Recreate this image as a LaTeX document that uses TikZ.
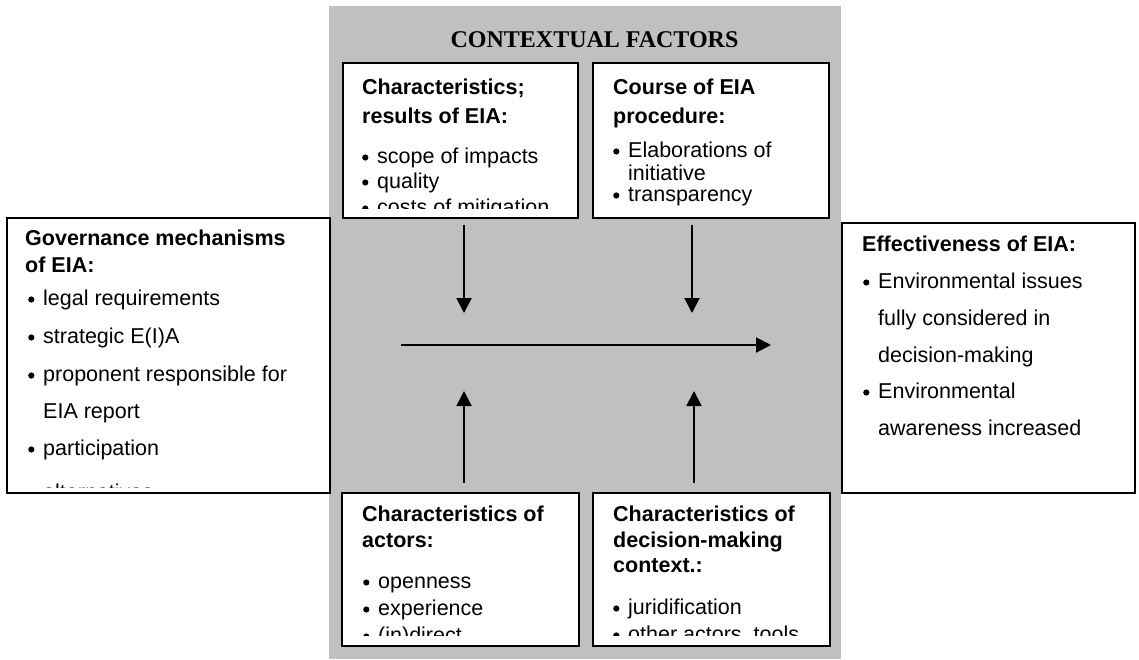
\documentclass[tikz,border=0pt]{standalone}
\usepackage{fontspec}
\setmainfont{Liberation Sans}
\newfontfamily\titlefont{Liberation Serif}
\usetikzlibrary{arrows.meta}
\definecolor{panelgray}{HTML}{C0C0C0}
\newcommand\mybullet{\makebox[15pt][l]{\raisebox{2.4pt}{\tikz\fill[black] (0,0) circle (3.1pt);}}}
\begin{document}
\begin{tikzpicture}[x=1pt,y=-1pt,
  txt/.style={anchor=base west, inner sep=0pt, font=\fontsize{21.5}{24}\selectfont},
  hd/.style={anchor=base west, inner sep=0pt, font=\fontsize{21.5}{24}\selectfont\bfseries},
  box/.style={draw=black, line width=1.5pt, fill=white, anchor=north west, inner sep=0pt},
  arr/.style={line width=2pt, -{Triangle[length=15pt,width=15pt]}}]
\useasboundingbox (0,0) rectangle (1139,659);
\fill[panelgray] (329,6) rectangle (841,659);
\node[anchor=base, inner sep=0pt, font=\titlefont\fontsize{24}{26}\selectfont\bfseries] (title) at (594.5,47) {CONTEXTUAL FACTORS};

% boxes
\node[box, minimum width=235pt, minimum height=155pt] (tl) at (342,62) {};
\node[box, minimum width=236pt, minimum height=155pt] (tr) at (592,62) {};
\node[box, minimum width=237pt, minimum height=153pt] (bl) at (341,492) {};
\node[box, minimum width=237pt, minimum height=153pt] (br) at (592,492) {};
\node[box, minimum width=323pt, minimum height=275pt] (gov) at (6,217) {};
\node[box, minimum width=293pt, minimum height=270pt] (eff) at (841,222) {};

% governance text
\begin{scope}
\clip (7,218) rectangle (328,487);
\node[hd] (g1) at (25,245) {Governance mechanisms};
\node[hd] (g2) at (25,272) {of EIA:};
\node[txt] (g3) at (28,305) {\mybullet legal requirements};
\node[txt] (g4) at (28,343) {\mybullet strategic E(I)A};
\node[txt] (g5) at (28,381) {\mybullet proponent responsible for};
\node[txt] (g6) at (43,418) {EIA report};
\node[txt] (g7) at (28,455) {\mybullet participation};
\node[txt] (g8) at (28,499) {\mybullet alternatives};
\end{scope}

% effectiveness text
\node[hd] (e1) at (862,251) {Effectiveness of EIA:};
\node[txt] (e2) at (863,288) {\mybullet Environmental issues};
\node[txt] (e3) at (878,325) {fully considered in};
\node[txt] (e4) at (878,362) {decision-making};
\node[txt] (e5) at (863,398) {\mybullet Environmental};
\node[txt] (e6) at (878,435) {awareness increased};

% top-left text
\begin{scope}
\clip (343,63) rectangle (576,208);
\node[hd] (a1) at (362,94) {Characteristics;};
\node[hd] (a2) at (362,123) {results of EIA:};
\node[txt] (a3) at (362,163) {\mybullet scope of impacts};
\node[txt] (a4) at (362,188) {\mybullet quality};
\node[txt] (a5) at (362,214) {\mybullet costs of mitigation};
\end{scope}

% top-right text
\begin{scope}
\clip (593,63) rectangle (827,207);
\node[hd] (b1) at (613,94) {Course of EIA};
\node[hd] (b2) at (613,123) {procedure:};
\node[txt] (b3) at (613,157) {\mybullet Elaborations of};
\node[txt] (b4) at (628,180) {initiative};
\node[txt] (b5) at (613,201) {\mybullet transparency};
\end{scope}

% bottom-left text
\begin{scope}
\clip (342,493) rectangle (577,635);
\node[hd] (c1) at (362,521) {Characteristics of};
\node[hd] (c2) at (362,547) {actors:};
\node[txt] (c3) at (363,588) {\mybullet openness};
\node[txt] (c4) at (363,615) {\mybullet experience};
\node[txt] (c5) at (363,642) {\mybullet (in)direct};
\end{scope}

% bottom-right text
\begin{scope}
\clip (593,493) rectangle (828,635);
\node[hd] (d1) at (613,521) {Characteristics of};
\node[hd] (d2) at (613,547) {decision-making};
\node[hd] (d3) at (613,572) {context.:};
\node[txt] (d4) at (613,614) {\mybullet juridification};
\node[txt] (d5) at (613,641) {\mybullet other actors, tools};
\end{scope}

% arrows
\coordinate (dl) at (464,313);
\coordinate (dr) at (692,313);
\coordinate (ul) at (464,391);
\coordinate (ur) at (694,391);
\coordinate (hy) at (0,345);
\draw[arr, shorten <=6pt] (tl.south -| dl) -- (dl);
\draw[arr, shorten <=6pt] (tr.south -| dr) -- (dr);
\draw[arr, shorten <=9pt] (bl.north -| ul) -- (ul);
\draw[arr, shorten <=9pt] (br.north -| ur) -- (ur);
\draw[arr, shorten <=70pt, shorten >=70pt] (gov.east |- hy) -- (eff.west |- hy);
\end{tikzpicture}
\end{document}
